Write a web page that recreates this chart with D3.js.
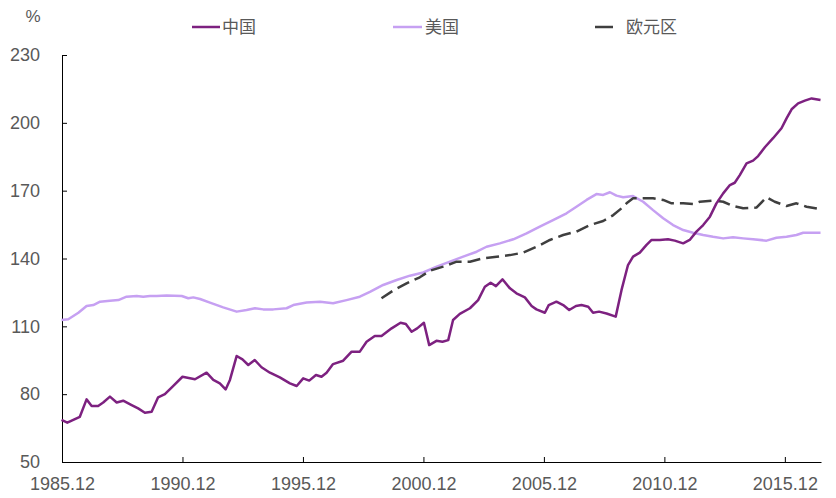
<!DOCTYPE html>
<html>
<head>
<meta charset="utf-8">
<script src="https://cdn.jsdelivr.net/npm/d3@7"></script>
<style>
  body { margin: 0; background: #fff; }
  text { font-family: "Liberation Sans", Arial, sans-serif; fill: #595959; }
  .cjk { font-family: "Noto Sans CJK SC", sans-serif; }
</style>
</head>
<body>
<svg id="chart"></svg>
<script>
// series names + colours
var seriesNames = ["中国", "美国", "欧元区"];
// ticks
var yTicks = [50, 80, 110, 140, 170, 200, 230];
var xTickYears = [1985, 1990, 1995, 2000, 2005, 2010, 2015];

// readings, [decimal year, %]
var china = [
  [1985.90, 68.6], [1986.14, 67.4], [1986.66, 70.0], [1986.94, 77.7], [1987.15, 74.8], [1987.42, 74.8],
  [1987.63, 76.3], [1987.91, 78.9], [1988.19, 76.3], [1988.46, 77.1], [1988.81, 75.2], [1989.08, 73.7],
  [1989.36, 71.8], [1989.64, 72.2], [1989.91, 78.6], [1990.19, 80.0], [1990.53, 83.6], [1990.92, 87.7],
  [1991.44, 86.6], [1991.92, 89.5], [1992.20, 86.3], [1992.47, 84.8], [1992.71, 82.1], [1992.89, 86.3],
  [1993.17, 96.9], [1993.41, 95.4], [1993.65, 92.9], [1993.92, 95.1], [1994.20, 91.9], [1994.55, 89.5],
  [1994.96, 87.4], [1995.38, 84.8], [1995.66, 83.6], [1995.93, 87.0], [1996.18, 86.0], [1996.46, 88.5],
  [1996.69, 87.7], [1996.90, 89.5], [1997.17, 93.3], [1997.59, 94.8], [1997.94, 98.8], [1998.28, 98.8],
  [1998.56, 103.2], [1998.90, 105.7], [1999.18, 105.7], [1999.60, 109.1], [1999.97, 111.6], [2000.19, 111.0],
  [2000.43, 107.6], [2000.66, 109.1], [2000.94, 111.6], [2001.16, 101.7], [2001.46, 103.6], [2001.71, 103.2],
  [2001.95, 103.9], [2002.15, 112.8], [2002.43, 115.5], [2002.85, 118.0], [2003.19, 121.6], [2003.47, 127.5],
  [2003.71, 129.3], [2003.93, 127.8], [2004.20, 130.8], [2004.51, 126.8], [2004.78, 124.6], [2005.13, 122.8],
  [2005.41, 119.0], [2005.61, 117.5], [2005.96, 116.0], [2006.12, 119.4], [2006.44, 120.9], [2006.72, 119.4],
  [2006.97, 117.2], [2007.25, 119.0], [2007.48, 119.4], [2007.76, 118.7], [2007.96, 116.0], [2008.21, 116.5],
  [2008.52, 115.7], [2008.90, 114.3], [2009.14, 126.0], [2009.41, 137.1], [2009.62, 140.8], [2009.90, 142.6],
  [2010.18, 146.0], [2010.39, 148.2], [2010.73, 148.2], [2011.07, 148.5], [2011.35, 147.9], [2011.70, 146.7],
  [2011.97, 148.2], [2012.25, 151.9], [2012.53, 154.8], [2012.81, 158.5], [2013.08, 164.4], [2013.36, 168.8],
  [2013.64, 172.5], [2013.84, 173.5], [2014.05, 176.9], [2014.33, 182.1], [2014.60, 183.3], [2014.81, 185.3],
  [2015.09, 189.2], [2015.43, 193.2], [2015.78, 197.6], [2015.99, 202.0], [2016.20, 206.0], [2016.47, 208.6],
  [2016.75, 209.8], [2017.03, 210.8], [2017.40, 210.1]
];
var usa = [
  [1985.90, 112.8], [1986.18, 113.1], [1986.60, 116.0], [1986.94, 119.0], [1987.22, 119.4], [1987.50, 120.9],
  [1987.91, 121.3], [1988.26, 121.6], [1988.60, 123.1], [1989.02, 123.4], [1989.29, 123.1], [1989.57, 123.4],
  [1989.85, 123.4], [1990.26, 123.6], [1990.89, 123.4], [1991.16, 122.4], [1991.37, 122.8], [1991.65, 122.1],
  [1992.06, 120.5], [1992.61, 118.4], [1993.17, 116.5], [1993.58, 117.2], [1993.93, 118.0], [1994.27, 117.5],
  [1994.69, 117.5], [1995.24, 118.0], [1995.52, 119.4], [1996.07, 120.5], [1996.63, 120.9], [1997.17, 120.2],
  [1997.73, 121.6], [1998.28, 123.1], [1998.70, 125.2], [1999.25, 128.3], [1999.81, 130.5], [2000.36, 132.4],
  [2000.91, 133.8], [2001.47, 136.4], [2002.02, 138.6], [2002.57, 140.8], [2003.13, 143.0], [2003.54, 145.2],
  [2004.09, 146.7], [2004.65, 148.5], [2005.20, 151.1], [2005.75, 154.1], [2006.30, 157.0], [2006.86, 160.0],
  [2007.27, 162.9], [2007.69, 165.9], [2008.10, 168.5], [2008.38, 168.1], [2008.66, 169.3], [2008.93, 167.8],
  [2009.21, 167.1], [2009.62, 167.6], [2010.04, 165.1], [2010.45, 161.4], [2010.87, 157.8], [2011.28, 154.8],
  [2011.70, 152.6], [2012.11, 151.4], [2012.53, 150.4], [2012.94, 149.6], [2013.36, 148.9], [2013.77, 149.4],
  [2014.19, 148.9], [2014.60, 148.5], [2015.16, 147.9], [2015.57, 149.2], [2015.99, 149.6], [2016.40, 150.4],
  [2016.68, 151.4], [2017.40, 151.4]
];
var euro = [
  [1999.18, 122.4], [1999.66, 125.8], [2000.22, 129.0], [2000.77, 131.7], [2001.19, 134.6], [2001.74, 136.4],
  [2002.30, 138.6], [2002.85, 138.6], [2003.40, 140.1], [2003.96, 140.8], [2004.51, 141.5], [2005.06, 142.6],
  [2005.62, 145.2], [2006.17, 148.2], [2006.72, 150.4], [2007.27, 151.9], [2007.83, 154.8], [2008.38, 156.6],
  [2008.80, 159.2], [2009.14, 162.2], [2009.35, 164.4], [2009.62, 166.6], [2010.45, 166.6], [2010.87, 165.9],
  [2011.22, 164.4], [2011.70, 164.4], [2012.11, 164.1], [2012.39, 165.1], [2012.94, 165.6], [2013.36, 165.1],
  [2013.77, 163.2], [2014.19, 162.2], [2014.74, 162.5], [2015.16, 167.1], [2015.50, 165.1], [2015.99, 163.2],
  [2016.40, 164.4], [2016.82, 162.9], [2017.40, 161.8]
];

var W = 836, H = 498;
var margin = { top: 55, right: 15, bottom: 36, left: 62 };

var svg = d3.select("#chart").attr("width", W).attr("height", H);

var x = d3.scaleLinear().domain([1985.92, 2017.42]).range([margin.left, W - margin.right]);
var y = d3.scaleLinear().domain([50, 230]).range([H - margin.bottom, margin.top]);

// x axis, ticks point up
var xAxis = d3.axisBottom(x)
    .tickValues(xTickYears.map(function(d){ return d + 0.92; }))
    .tickFormat(function(d){ return Math.round(d - 0.92) + ".12"; })
    .tickSizeInner(-5).tickSizeOuter(0).tickPadding(15);
var gx = svg.append("g").attr("transform", "translate(0," + y(50) + ")").call(xAxis);

// y axis, ticks point right
var yAxis = d3.axisLeft(y).tickValues(yTicks).tickSizeInner(-5).tickSizeOuter(0).tickPadding(22);
var gy = svg.append("g").attr("transform", "translate(" + margin.left + ",0)").call(yAxis);

[gx, gy].forEach(function(g){
  g.selectAll("path, line").attr("stroke", "#000").attr("stroke-width", 1);
  g.selectAll("text").style("font-size", "18px").attr("fill", "#595959");
});

svg.append("text").attr("x", 33).attr("y", 22).attr("text-anchor", "middle")
  .style("font-size", "17px").text("%");

var line = d3.line().x(function(d){ return x(d[0]); }).y(function(d){ return y(d[1]); });

var styles = [
  { data: china, color: "#7d2180", dash: null },
  { data: usa, color: "#c6a0f2", dash: null },
  { data: euro, color: "#3f3f3f", dash: "13 6" }
];

// draw order: usa, euro, china on top
[1, 2, 0].forEach(function(i){
  var s = styles[i];
  svg.append("path").attr("d", line(s.data))
    .attr("fill", "none").attr("stroke", s.color).attr("stroke-width", 2.5)
    .attr("stroke-linejoin", "round")
    .attr("stroke-dasharray", s.dash);
});

// legend
var legendPos = [{ x1: 192, x2: 220, tx: 222 }, { x1: 393, x2: 422, tx: 425 }, { x1: 595, x2: 613, tx: 626 }];
seriesNames.forEach(function(name, i){
  var p = legendPos[i];
  svg.append("line").attr("x1", p.x1).attr("x2", p.x2).attr("y1", 27).attr("y2", 27)
    .attr("stroke", styles[i].color).attr("stroke-width", 2.5);
  svg.append("text").attr("class", "cjk").attr("x", p.tx).attr("y", 33)
    .style("font-size", "17px").text(name);
});
</script>
</body>
</html>
